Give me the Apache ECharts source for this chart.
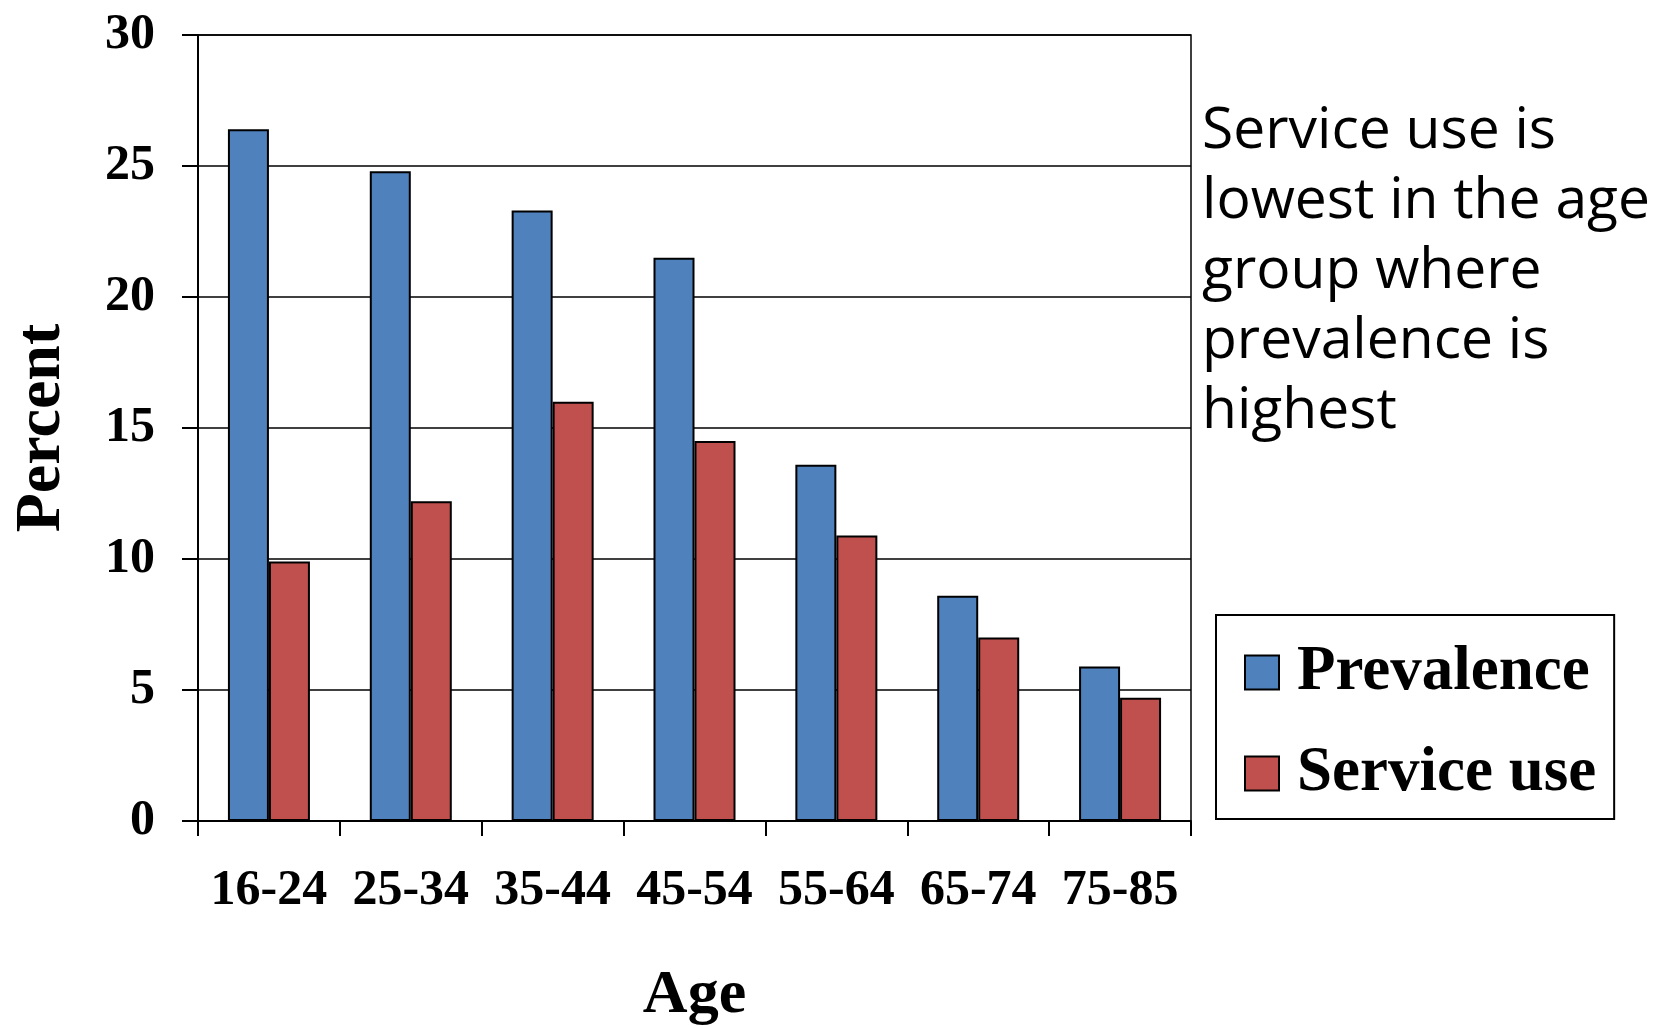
<!DOCTYPE html>
<html>
<head>
<meta charset="utf-8">
<script src="https://cdn.jsdelivr.net/npm/echarts@6/dist/echarts.min.js"></script>
<style>
html,body{margin:0;padding:0;background:#fff;}
#chart{width:1661px;height:1028px;}
</style>
</head>
<body>
<div id="chart"></div>
<script>
const categories = ['16-24', '25-34', '35-44', '45-54', '55-64', '65-74', '75-85'];
const prevalence = [26.4, 24.8, 23.3, 21.5, 13.6, 8.6, 5.9];
const serviceUse = [9.9, 12.2, 16.0, 14.5, 10.9, 7.0, 4.7];
const seriesNames = ['Prevalence', 'Service use'];
const yTicks = { min: 0, max: 30, interval: 5 };
const annotation = 'Service use is\nlowest in the age\ngroup where\nprevalence is\nhighest';

const serif = '"Liberation Serif", "Times New Roman", serif';
const chart = echarts.init(document.getElementById('chart'), null, { renderer: 'canvas' });
chart.setOption({
  animation: false,
  backgroundColor: '#ffffff',
  grid: { left: 198, right: 470, top: 35, bottom: 207, containLabel: false, outerBoundsMode: 'none',
          show: true, borderColor: '#000', borderWidth: 1.5, backgroundColor: 'transparent' },
  legend: {
    orient: 'vertical',
    left: 1216, top: 615,
    width: 396,
    padding: [26, 18, 14, 28],
    borderColor: '#000', borderWidth: 2,
    itemWidth: 34, itemHeight: 34, itemGap: 38,
    icon: 'rect',
    data: seriesNames,
    textStyle: { fontFamily: serif, fontWeight: 'bold', fontSize: 63, color: '#000', lineHeight: 62, padding: [0, 0, 0, 13] }
  },
  xAxis: {
    type: 'category',
    data: categories,
    name: 'Age', nameLocation: 'middle', nameGap: 144,
    nameTextStyle: { fontFamily: serif, fontWeight: 'bold', fontSize: 62, color: '#000' },
    axisLine: { show: true, lineStyle: { color: '#000', width: 2 } },
    axisTick: { show: true, interval: 0, length: 15, lineStyle: { color: '#000', width: 2 } },
    axisLabel: { interval: 0, margin: 45, fontFamily: serif, fontWeight: 'bold', fontSize: 50, color: '#000' }
  },
  yAxis: {
    type: 'value',
    min: yTicks.min, max: yTicks.max, interval: yTicks.interval,
    name: 'Percent', nameLocation: 'middle', nameGap: 124,
    nameTextStyle: { fontFamily: serif, fontWeight: 'bold', fontSize: 64, color: '#000' },
    axisLine: { show: true, lineStyle: { color: '#000', width: 2 } },
    axisTick: { show: true, length: 16, lineStyle: { color: '#000', width: 2 } },
    axisLabel: { margin: 43, fontFamily: serif, fontWeight: 'bold', fontSize: 50, color: '#000' },
    splitLine: { show: true, lineStyle: { color: '#000', width: 1.5 } }
  },
  series: [
    { name: seriesNames[0], type: 'bar', data: prevalence, barWidth: 41, barGap: '0%',
      itemStyle: { color: '#4F81BD', borderColor: '#000', borderWidth: 2 } },
    { name: seriesNames[1], type: 'bar', data: serviceUse, barWidth: 41, barGap: '0%',
      itemStyle: { color: '#C0504D', borderColor: '#000', borderWidth: 2 } }
  ],
  graphic: [{
    type: 'text', left: 1202, top: 97,
    style: { text: annotation, font: '57px "Open Sans", "Noto Sans", sans-serif', lineHeight: 70, fill: '#000' }
  }]
});
</script>
</body>
</html>
